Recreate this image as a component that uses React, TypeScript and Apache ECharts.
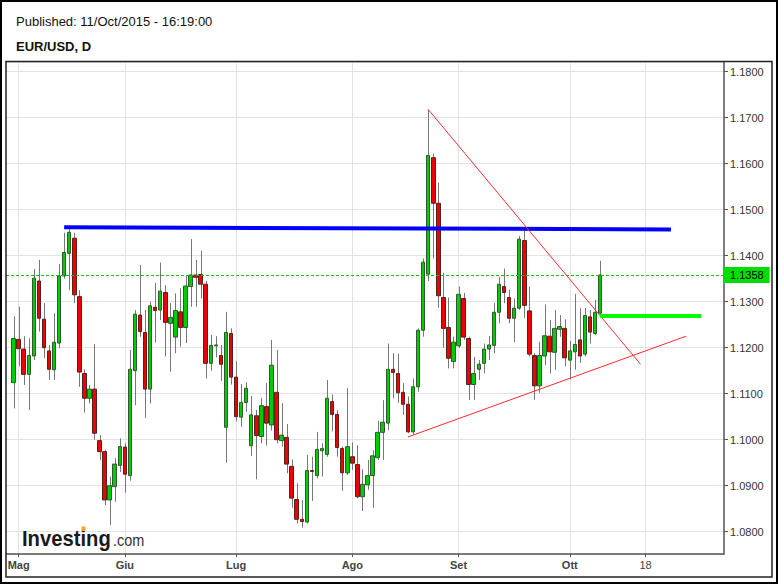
import React, { useEffect, useRef } from "react";
import * as echarts from "echarts";

// ---------- categories (trading days, then calendar days in the future) ----------
const LEAD_DAYS = ["04-29"];
const APR_DAYS = [30];
const MAY_DAYS = [1, 4, 5, 6, 7, 8, 11, 12, 13, 14, 15, 18, 19, 20, 21, 22, 25, 26, 27, 28, 29];
const JUN_DAYS = [1, 2, 3, 4, 5, 8, 9, 10, 11, 12, 15, 16, 17, 18, 19, 22, 23, 24, 25, 26, 29, 30];
const JUL_DAYS = [1, 2, 3, 6, 7, 8, 9, 10, 13, 14, 15, 16, 17, 20, 21, 22, 23, 24, 27, 28, 29, 30, 31];
const AUG_DAYS = [3, 4, 5, 6, 7, 10, 11, 12, 13, 14, 17, 18, 19, 20, 21, 24, 25, 26, 27, 28, 31];
const SEP_DAYS = [1, 2, 3, 4, 7, 8, 9, 10, 11, 14, 15, 16, 17, 18, 21, 22, 23, 24, 25, 28, 29, 30];
const OCT_DAYS = [1, 2, 5, 6, 7, 8, 9];
const OCT_FUTURE = [10, 11, 12, 13, 14, 15, 16, 17, 18, 19, 20, 21, 22, 23, 24, 25, 26, 27, 28, 29, 30, 31];
const NOV_FUTURE = [1, 2];

const TICK_LABELS: Record<string, string> = {
  "05-01": "Mag",
  "06-01": "Giu",
  "07-01": "Lug",
  "08-03": "Ago",
  "09-01": "Set",
  "10-01": "Ott",
  "10-18": "18",
};

// ---------- OHLC (EUR/USD daily, 30 Apr 2015 .. 9 Oct 2015) ----------
const OPEN = [
  1.1124, 1.1218, 1.1197, 1.1142, 1.1182, 1.1345, 1.1262, 1.1193, 1.1152, 1.1210,
  1.1356, 1.1405, 1.1438, 1.1311, 1.1144, 1.1090, 1.1110, 1.0998, 1.0974, 1.0869,
  1.0898, 1.0944, 1.0984, 1.0922, 1.1150, 1.1271, 1.1233, 1.1110, 1.1288, 1.1282,
  1.1320, 1.1253, 1.1223, 1.1278, 1.1244, 1.1333, 1.1358, 1.1359, 1.1338, 1.1166,
  1.1204, 1.1183, 1.1027, 1.1231, 1.1136, 1.1049, 1.1081, 1.0987, 1.1052, 1.1007,
  1.1072, 1.1032, 1.1103, 1.0998, 1.1005, 1.0942, 1.0870, 1.0827, 1.0821, 1.0933,
  1.0922, 1.0976, 1.0968, 1.1083, 1.1055, 1.0981, 1.0928, 1.0963, 1.0946, 1.0876,
  1.0902, 1.0922, 1.0961, 1.1016, 1.1036, 1.1153, 1.1144, 1.1103, 1.1077, 1.1017,
  1.1115, 1.1238, 1.1360, 1.1613, 1.1514, 1.1309, 1.1244, 1.1170, 1.1204, 1.1307,
  1.1220, 1.1120, 1.1153, 1.1166, 1.1197, 1.1205, 1.1277, 1.1333, 1.1309, 1.1264,
  1.1286, 1.1433, 1.1280, 1.1183, 1.1117, 1.1182, 1.1225, 1.1190, 1.1240, 1.1242,
  1.1173, 1.1191, 1.1217, 1.1186, 1.1267, 1.1231, 1.1275,
];
const CLOSE = [
  1.1220, 1.1198, 1.1142, 1.1183, 1.1351, 1.1264, 1.1200, 1.1153, 1.1212, 1.1356,
  1.1407, 1.1451, 1.1315, 1.1147, 1.1090, 1.1110, 1.1014, 1.0974, 1.0869, 1.0900,
  1.0947, 1.0985, 1.0925, 1.1153, 1.1273, 1.1235, 1.1110, 1.1291, 1.1281, 1.1323,
  1.1255, 1.1266, 1.1281, 1.1244, 1.1334, 1.1358, 1.1353, 1.1338, 1.1166, 1.1205,
  1.1206, 1.1164, 1.1233, 1.1136, 1.1050, 1.1081, 1.1112, 1.1054, 1.1009, 1.1074,
  1.1036, 1.1162, 1.1000, 1.1010, 1.0947, 1.0873, 1.0827, 1.0822, 1.0933, 1.0931,
  1.0979, 1.0981, 1.1090, 1.1055, 1.0983, 1.0928, 1.0985, 1.0949, 1.0876, 1.0903,
  1.0922, 1.0965, 1.1016, 1.1038, 1.1153, 1.1146, 1.1102, 1.1077, 1.1017, 1.1115,
  1.1238, 1.1386, 1.1618, 1.1514, 1.1313, 1.1242, 1.1177, 1.1212, 1.1316, 1.1223,
  1.1120, 1.1144, 1.1164, 1.1197, 1.1206, 1.1277, 1.1338, 1.1320, 1.1264, 1.1286,
  1.1436, 1.1292, 1.1186, 1.1117, 1.1183, 1.1226, 1.1191, 1.1242, 1.1246, 1.1178,
  1.1193, 1.1207, 1.1182, 1.1270, 1.1234, 1.1277, 1.1358,
];
const LOW = [
  1.1068, 1.1160, 1.1119, 1.1065, 1.1173, 1.1235, 1.1177, 1.1130, 1.1130, 1.1199,
  1.1350, 1.1325, 1.1297, 1.1115, 1.1059, 1.1079, 1.1000, 1.0956, 1.0858, 1.0815,
  1.0865, 1.0930, 1.0885, 1.0911, 1.1075, 1.1224, 1.1047, 1.1079, 1.1211, 1.1260,
  1.1181, 1.1148, 1.1188, 1.1202, 1.1210, 1.1289, 1.1289, 1.1307, 1.1133, 1.1150,
  1.1179, 1.1128, 1.0950, 1.1120, 1.1040, 1.1028, 1.1061, 1.0965, 1.0914, 1.0992,
  1.0987, 1.1020, 1.0992, 1.0985, 1.0927, 1.0852, 1.0818, 1.0809, 1.0818, 1.0867,
  1.0916, 1.0920, 1.0963, 1.1018, 1.0963, 1.0889, 1.0923, 1.0934, 1.0873, 1.0845,
  1.0891, 1.0852, 1.0956, 1.0956, 1.1021, 1.1090, 1.1080, 1.1054, 1.1014, 1.1012,
  1.1104, 1.1224, 1.1345, 1.1394, 1.1287, 1.1200, 1.1155, 1.1155, 1.1199, 1.1217,
  1.1086, 1.1087, 1.1130, 1.1144, 1.1173, 1.1188, 1.1253, 1.1297, 1.1253, 1.1212,
  1.1282, 1.1264, 1.1181, 1.1087, 1.1102, 1.1162, 1.1144, 1.1152, 1.1224, 1.1160,
  1.1131, 1.1152, 1.1167, 1.1181, 1.1209, 1.1228, 1.1271,
];
const HIGH = [
  1.1268, 1.1289, 1.1225, 1.1220, 1.1371, 1.1391, 1.1297, 1.1206, 1.1275, 1.1382,
  1.1450, 1.1465, 1.1450, 1.1325, 1.1153, 1.1119, 1.1208, 1.1010, 1.0978, 1.0920,
  1.0960, 1.1003, 1.0992, 1.1195, 1.1282, 1.1380, 1.1282, 1.1300, 1.1341, 1.1385,
  1.1336, 1.1297, 1.1318, 1.1329, 1.1358, 1.1436, 1.1391, 1.1411, 1.1345, 1.1228,
  1.1225, 1.1206, 1.1278, 1.1242, 1.1171, 1.1121, 1.1125, 1.1095, 1.1065, 1.1091,
  1.1123, 1.1217, 1.1195, 1.1079, 1.1034, 1.0957, 1.0905, 1.0869, 1.0967, 1.0963,
  1.1017, 1.0992, 1.1130, 1.1098, 1.1064, 1.0985, 1.1112, 1.0994, 1.0988, 1.0936,
  1.0956, 1.0977, 1.1041, 1.1086, 1.1209, 1.1188, 1.1187, 1.1123, 1.1094, 1.1133,
  1.1242, 1.1394, 1.1718, 1.1622, 1.1559, 1.1363, 1.1309, 1.1224, 1.1333, 1.1319,
  1.1224, 1.1180, 1.1173, 1.1209, 1.1225, 1.1297, 1.1354, 1.1372, 1.1326, 1.1307,
  1.1443, 1.1459, 1.1333, 1.1188, 1.1213, 1.1294, 1.1260, 1.1282, 1.1271, 1.1262,
  1.1215, 1.1317, 1.1286, 1.1286, 1.1282, 1.1304, 1.1389,
];

const LAST_PRICE = 1.1358;

// drawn trend lines: [category, price] endpoints
const RESISTANCE: [string, number][] = [["05-14", 1.1462], ["10-23", 1.1457]];
const DOWNTREND: [string, number][] = [["08-24", 1.1718], ["10-17", 1.1164]];
const UPTREND: [string, number][] = [["08-18", 1.1006], ["10-26", 1.1225]];
const BREAKOUT: [string, number][] = [["10-09", 1.1269], ["10-29", 1.1269]];

const pad = (n: number) => (n < 10 ? "0" + n : "" + n);
const md = (m: number, days: number[]) => days.map((d) => pad(m) + "-" + pad(d));

const TRADING = [
  ...md(4, APR_DAYS),
  ...md(5, MAY_DAYS),
  ...md(6, JUN_DAYS),
  ...md(7, JUL_DAYS),
  ...md(8, AUG_DAYS),
  ...md(9, SEP_DAYS),
  ...md(10, OCT_DAYS),
];
const CATEGORIES = [...LEAD_DAYS, ...TRADING, ...md(10, OCT_FUTURE), ...md(11, NOV_FUTURE)];

const FONT = '"Liberation Sans", Arial, sans-serif';

export default function App() {
  const ref = useRef<HTMLDivElement>(null);

  useEffect(() => {
    if (!ref.current) return;
    const chart = echarts.init(ref.current, null, { renderer: "svg" });

    const offset = LEAD_DAYS.length;
    const candles = OPEN.map((o, i) => {
      const c = CLOSE[i];
      return [i + offset, o, c, Math.min(o, c), Math.max(o, c)];
    });
    const wicks = OPEN.map((_, i) => [i + offset, LOW[i], HIGH[i]]);

    const isTick = (_idx: number, value: string) => !!TICK_LABELS[value];

    const trend = (pts: [string, number][], color: string, width: number) => [
      { coord: pts[0], lineStyle: { color, width, type: "solid" } },
      { coord: pts[1] },
    ];

    const option: any = {
      animation: false,
      backgroundColor: "#ffffff",
      grid: { left: 6, top: 62, width: 718, height: 492, containLabel: false, show: false },
      xAxis: {
        type: "category",
        data: CATEGORIES,
        boundaryGap: true,
        axisLine: { show: true, lineStyle: { color: "#555555", width: 1.5 } },
        axisTick: { show: true, alignWithLabel: true, interval: isTick, length: 3, lineStyle: { color: "#555555" } },
        splitLine: { show: true, alignWithLabel: true, interval: isTick, lineStyle: { color: "#e3e3e3", width: 1 } },
        axisLabel: {
          interval: isTick,
          margin: 5,
          fontFamily: FONT,
          fontSize: 11,
          color: "#444444",
          formatter: (v: string) => {
            const t = TICK_LABELS[v];
            if (!t) return "";
            return /^\d+$/.test(t) ? "{n|" + t + "}" : "{b|" + t + "}";
          },
          rich: {
            b: { fontWeight: "bold", fontFamily: FONT, fontSize: 11, color: "#444444" },
            n: { fontWeight: "normal", fontFamily: FONT, fontSize: 11, color: "#444444" },
          },
        },
      },
      yAxis: {
        type: "value",
        position: "right",
        scale: true,
        min: 1.075152,
        max: 1.182109,
        splitNumber: 10,
        minInterval: 0.01,
        maxInterval: 0.01,
        axisLine: { show: true, lineStyle: { color: "#555555", width: 1.5 } },
        axisTick: { show: true, length: 4, lineStyle: { color: "#555555" } },
        splitLine: { show: true, lineStyle: { color: "#e3e3e3", width: 1 } },
        axisLabel: {
          margin: 6,
          fontFamily: FONT,
          fontSize: 11,
          color: "#333333",
          showMinLabel: false,
          showMaxLabel: false,
          formatter: (v: number) => (Math.abs(v * 100 - Math.round(v * 100)) < 1e-6 ? v.toFixed(4) : ""),
        },
      },
      series: [
        {
          type: "custom",
          name: "wicks",
          z: 1,
          silent: true,
          data: wicks,
          encode: { x: 0, y: [1, 2] },
          renderItem: (_p: any, api: any) => {
            const x = api.value(0);
            const lo = api.coord([x, api.value(1)]);
            const hi = api.coord([x, api.value(2)]);
            const px = Math.round(lo[0]) + 0.5;
            return {
              type: "line",
              shape: { x1: px, y1: lo[1], x2: px, y2: hi[1] },
              style: { stroke: "#777777", lineWidth: 1 },
            };
          },
        },
        {
          type: "candlestick",
          name: "EUR/USD",
          z: 2,
          silent: true,
          barWidth: 4,
          data: candles,
          encode: { x: 0, y: [1, 2, 3, 4] },
          itemStyle: {
            color: "#00cc00",
            color0: "#ee0000",
            borderColor: "#2f5a2f",
            borderColor0: "#5a2020",
            borderWidth: 1,
          },
          markLine: {
            silent: true,
            symbol: ["none", "none"],
            precision: 6,
            animation: false,
            emphasis: { disabled: true },
            label: { show: false },
            lineStyle: { color: "#00c800", width: 1, type: [3, 2], opacity: 1 },
            data: [
              {
                yAxis: LAST_PRICE,
                lineStyle: { color: "#00c800", width: 1, type: [3, 2], opacity: 1 },
                label: {
                  show: true,
                  position: "end",
                  distance: 0,
                  formatter: () => LAST_PRICE.toFixed(4),
                  backgroundColor: "#00dd00",
                  color: "#000000",
                  fontFamily: FONT,
                  fontSize: 11,
                  lineHeight: 12,
                  padding: [2, 6, 2, 6],
                },
              },
              trend(RESISTANCE, "#0000ff", 4),
              trend(DOWNTREND, "#ff2a2a", 1),
              trend(UPTREND, "#ff2a2a", 1),
              trend(BREAKOUT, "#00ff00", 4),
            ],
          },
        },
      ],
      graphic: [
        {
          type: "rect",
          shape: { x: 1, y: 1, width: 776, height: 582 },
          style: { fill: "none", stroke: "#000000", lineWidth: 2 },
          silent: true,
          z: 100,
        },
        {
          type: "rect",
          shape: { x: 6, y: 61.5, width: 766, height: 515.5 },
          style: { fill: "none", stroke: "#222222", lineWidth: 1.5 },
          silent: true,
          z: 100,
        },
        {
          type: "text",
          x: 16,
          y: 28,
          style: {
            text: "Published: 11/Oct/2015 - 16:19:00",
            font: '13px "Liberation Sans", Arial, sans-serif',
            fill: "#111111",
            verticalAlign: "bottom",
          },
          silent: true,
        },
        {
          type: "text",
          x: 16,
          y: 52.5,
          style: {
            text: "EUR/USD, D",
            font: 'bold 13px "Liberation Sans", Arial, sans-serif',
            fill: "#111111",
            verticalAlign: "bottom",
          },
          silent: true,
        },
        {
          type: "text",
          x: 22,
          y: 549.5,
          scaleX: 0.92,
          style: {
            text: "Investing",
            font: 'bold 22px "Liberation Sans", Arial, sans-serif',
            fill: "#1a1a1a",
            verticalAlign: "bottom",
          },
          silent: true,
          z: 50,
        },
        {
          type: "rect",
          shape: { x: 81.5, y: 526.5, width: 4, height: 4.5 },
          style: { fill: "#f5a623" },
          silent: true,
          z: 51,
        },
        {
          type: "text",
          x: 113,
          y: 548.5,
          scaleX: 0.85,
          style: {
            text: ".com",
            font: '17px "Liberation Sans", Arial, sans-serif',
            fill: "#333333",
            verticalAlign: "bottom",
          },
          silent: true,
          z: 50,
        },
      ],
    };

    chart.setOption(option);
    return () => chart.dispose();
  }, []);

  return (
    <div
      ref={ref}
      style={{ position: "absolute", left: 0, top: 0, width: 779, height: 585, background: "#ffffff" }}
    />
  );
}
